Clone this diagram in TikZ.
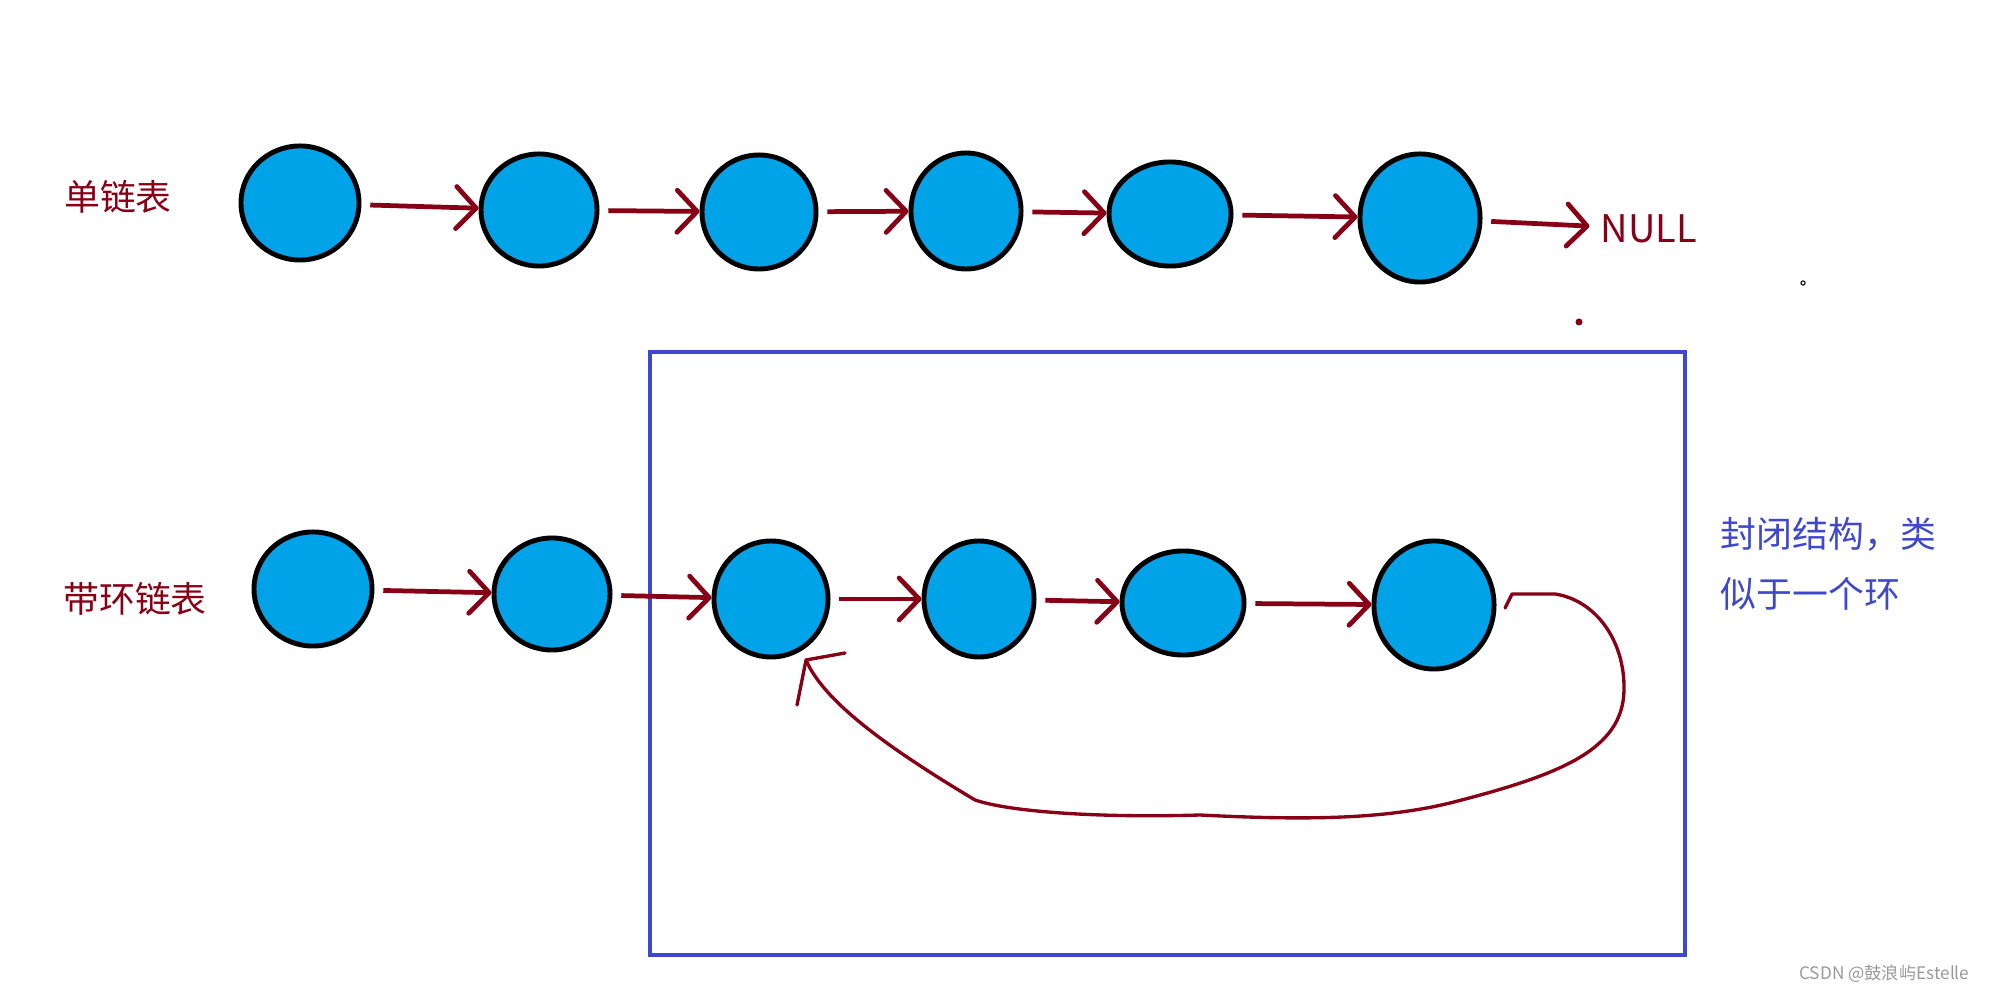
\documentclass[tikz,border=0pt]{standalone}
\usepackage{fontspec}
\setmainfont{Noto Sans CJK SC}
\usetikzlibrary{arrows.meta, shapes.geometric}
\definecolor{paintred}{RGB}{136,0,21}
\definecolor{paintblue}{RGB}{0,162,232}
\definecolor{paintindigo}{RGB}{63,72,204}

\begin{document}
\begin{tikzpicture}[x=0.01cm, y=-0.01cm,
    cell/.style={ellipse, draw=black, line width=1.4pt, fill=paintblue, inner sep=0pt},
    link/.style={-{Straight Barb[length=2mm, width=4.2mm, round]}, paintred, line width=1.35pt, shorten <=2.5pt},
    back/.style={paintred, line width=0.95pt, line cap=round, line join=round},
    lbl/.style={paintred, inner sep=0pt, font=\fontsize{10.2}{12}\selectfont}]
    \useasboundingbox (0,0) rectangle (1994,992);

    \draw[paintindigo, line width=1.2pt] (650,352) rectangle (1685,955);

    \foreach \n/\x/\y/\w/\h in {1/300/203/1.18/1.14, 2/539/210/1.16/1.12, 3/759/212/1.14/1.14,
                                4/966/211/1.10/1.16, 5/1170/214/1.22/1.04, 6/1420/218/1.20/1.28} {
      \node[cell, minimum width=\w cm, minimum height=\h cm] (s\n) at (\x,\y) {};
    }
    \foreach \n/\x/\y/\w/\h in {1/313/589/1.18/1.14, 2/552/594/1.16/1.12, 3/771/599/1.14/1.16,
                                4/979/599/1.10/1.16, 5/1183/603/1.22/1.04, 6/1434/605/1.20/1.28} {
      \node[cell, minimum width=\w cm, minimum height=\h cm] (r\n) at (\x,\y) {};
    }

    \node[lbl] (single) at (118,197) {单链表};
    \node[lbl] (ring) at (135,599) {带环链表};
    \node[lbl, anchor=west, font=\fontsize{10.8}{13}\selectfont] (null) at (1600,229) {NULL};
    \node[text=paintindigo, inner sep=0pt, anchor=north west, align=left,
          font=\fontsize{10.2}{17}\selectfont] (note) at (1720,517) {封闭结构，类\\似于一个环};
    \node[text=black!40, inner sep=0pt, anchor=east, font=\fontsize{4.9}{6}\selectfont] (mark) at (1970,974) {CSDN @鼓浪屿Estelle};

    \foreach \a/\b in {1/2, 2/3, 3/4, 4/5, 5/6} {
      \draw[link] (s\a) -- (s\b);
      \draw[link] (r\a) -- (r\b);
    }
    \draw[link, shorten >=3pt] (s6) -- (null);

    \coordinate (from) at (1505,608);
    \coordinate (tip) at (806,660);
    \draw[back] (from) -- (1512,594) -- (1555,594)
      .. controls (1595,600) and (1625,640) .. (1624,690)
      .. controls (1623,750) and (1560,775) .. (1450,803)
      .. controls (1380,820) and (1300,820) .. (1200,815)
      .. controls (1100,818) and (1010,812) .. (975,800)
      .. controls (900,755) and (825,705) .. (tip);
    \draw[back] (845,653) -- (tip) -- (797,705);

    \fill[paintred] (1579,322) circle (1pt);
    \draw[black, line width=0.3pt] (1803,283) circle (0.6pt);
\end{tikzpicture}
\end{document}
